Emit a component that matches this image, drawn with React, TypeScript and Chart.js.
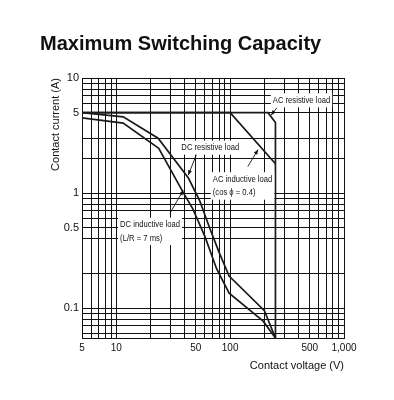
import { useEffect, useRef } from 'react';
import { Chart, registerables } from 'chart.js';

Chart.register(...registerables);

// ---- data ----
const dcResistiveV = [5, 11.5, 23.3, 43, 54, 67, 80, 98, 200, 250];
const dcResistiveI = [5, 4.6, 3.0, 1.35, 0.86, 0.48, 0.305, 0.19, 0.095, 0.055];

const dcInductiveV = [5, 11.5, 23.6, 39, 47, 60, 76, 98, 195, 250];
const dcInductiveI = [4.5, 4.05, 2.45, 1.0, 0.73, 0.42, 0.22, 0.135, 0.077, 0.055];

const acInductiveV = [5, 100, 250];
const acInductiveI = [5, 5, 1.8];

const acResistiveV = [5, 215, 250, 250];
const acResistiveI = [5, 5, 4.1, 0.055];

const xGrid = [5, 6, 7, 8, 9, 10, 20, 30, 40, 50, 60, 70, 80, 90, 100, 200, 300, 400, 500, 600, 700, 800, 900, 1000];
const xLabelValues = [5, 10, 50, 100, 500, 1000];
const xLabelTexts = ['5', '10', '50', '100', '500', '1,000'];

const yGrid = [10, 9, 8, 7, 6, 5, 3, 2, 1, 0.9, 0.8, 0.7, 0.6, 0.5, 0.4, 0.2, 0.1, 0.09, 0.08, 0.07, 0.06];
const yLabelValues = [10, 5, 1, 0.5, 0.1];
const yLabelTexts = ['10', '5', '1', '0.5', '0.1'];

const xMin = 5;
const xMax = 1000;
const yMin = 0.055;
const yMax = 10;

const titleText = 'Maximum Switching Capacity';
const xTitle = 'Contact voltage (V)';
const yTitle = 'Contact current (A)';

// annotation labels, in data coordinates (voltage, current)
const labelNotes = [
  { lines: ['AC resistive load'], at: [237, 6.4], from: [257, 5.5], to: [229, 4.75] },
  { lines: ['DC resistive load'], at: [37.3, 2.48], from: [50.5, 2.15], to: [42.8, 1.43] },
  { lines: ['AC inductive load', '(cos \u03d5 = 0.4)'], at: [70.4, 1.32], from: [143, 1.7], to: [176, 2.39] },
  { lines: ['DC inductive load', '(L/R = 7 ms)'], at: [10.8, 0.532], from: [29.6, 0.666], to: [38.7, 1.057] },
];

const toPoints = (xs: number[], ys: number[]) => xs.map((x, k) => ({ x, y: ys[k] }));

const labelFor = (vals: number[], texts: string[], v: number) => {
  const k = vals.findIndex((a) => Math.abs(a - v) / a < 1e-6);
  return k >= 0 ? texts[k] : '';
};

const NOTE_FONT = '9px "Liberation Sans", Arial, sans-serif';
const NOTE_SQUEEZE = 0.85;

const overlayPlugin = {
  id: 'overlay',
  afterDraw(chart: any) {
    const ctx = chart.ctx as CanvasRenderingContext2D;
    const xs = chart.scales.x;
    const ys = chart.scales.y;
    ctx.save();
    // title
    ctx.fillStyle = '#111';
    ctx.font = 'bold 20px "Liberation Sans", Arial, sans-serif';
    ctx.textAlign = 'left';
    ctx.textBaseline = 'alphabetic';
    ctx.fillText(titleText, 40, 50);

    // notes
    ctx.font = NOTE_FONT;
    const lh = 13.5;
    for (const n of labelNotes) {
      const px = xs.getPixelForValue(n.at[0]);
      const py = ys.getPixelForValue(n.at[1]);
      const w = Math.max(...n.lines.map((t) => ctx.measureText(t).width)) * NOTE_SQUEEZE;
      ctx.fillStyle = '#fff';
      ctx.fillRect(px - 2, py - 7, w + 4, lh * (n.lines.length - 1) + 14);
      ctx.fillStyle = '#111';
      ctx.textBaseline = 'middle';
      n.lines.forEach((t, k) => {
        ctx.save();
        ctx.translate(px, py + k * lh);
        ctx.scale(NOTE_SQUEEZE, 1);
        ctx.fillText(t, 0, 0);
        ctx.restore();
      });
      // leader with arrowhead
      const x1 = xs.getPixelForValue(n.from[0]);
      const y1 = ys.getPixelForValue(n.from[1]);
      const x2 = xs.getPixelForValue(n.to[0]);
      const y2 = ys.getPixelForValue(n.to[1]);
      ctx.strokeStyle = '#111';
      ctx.lineWidth = 0.9;
      ctx.beginPath();
      ctx.moveTo(x1, y1);
      ctx.lineTo(x2, y2);
      ctx.stroke();
      const ang = Math.atan2(y2 - y1, x2 - x1);
      const al = 5;
      const aw = 2;
      ctx.beginPath();
      ctx.moveTo(x2, y2);
      ctx.lineTo(x2 - al * Math.cos(ang) + aw * Math.sin(ang), y2 - al * Math.sin(ang) - aw * Math.cos(ang));
      ctx.lineTo(x2 - al * Math.cos(ang) - aw * Math.sin(ang), y2 - al * Math.sin(ang) + aw * Math.cos(ang));
      ctx.closePath();
      ctx.fill();
    }
    ctx.restore();
  },
};

export default function App() {
  const ref = useRef<HTMLCanvasElement | null>(null);

  useEffect(() => {
    if (!ref.current) return;
    const lineStyle = {
      borderColor: '#1a1a1a',
      borderWidth: 1.7,
      pointRadius: 0,
      fill: false,
      tension: 0,
    };
    const chart = new Chart(ref.current, {
      type: 'line',
      data: {
        datasets: [
          { label: 'DC resistive load', data: toPoints(dcResistiveV, dcResistiveI), ...lineStyle },
          { label: 'DC inductive load', data: toPoints(dcInductiveV, dcInductiveI), ...lineStyle },
          { label: 'AC inductive load', data: toPoints(acInductiveV, acInductiveI), ...lineStyle },
          { label: 'AC resistive load', data: toPoints(acResistiveV, acResistiveI), ...lineStyle },
        ],
      },
      options: {
        animation: false,
        responsive: false,
        devicePixelRatio: 1,
        parsing: false,
        layout: { padding: { top: 78, right: 50, bottom: 0, left: 0 } },
        plugins: {
          legend: { display: false },
          tooltip: { enabled: false },
          title: { display: false },
        },
        scales: {
          x: {
            type: 'logarithmic',
            min: xMin,
            max: xMax,
            afterBuildTicks: (s: any) => {
              s.ticks = xGrid.map((v) => ({ value: v }));
            },
            afterFit: (s: any) => {
              s.height = 62;
            },
            ticks: {
              autoSkip: false,
              maxRotation: 0,
              padding: 4,
              color: '#111',
              font: { family: '"Liberation Sans", Arial, sans-serif', size: 10 },
              callback: (v: any) => labelFor(xLabelValues, xLabelTexts, Number(v)),
            },
            grid: { color: '#111', lineWidth: 1, drawTicks: false },
            border: { color: '#111', width: 1 },
            title: {
              display: true,
              text: xTitle,
              align: 'end',
              color: '#111',
              padding: { top: 0, bottom: 27 },
              font: { family: '"Liberation Sans", Arial, sans-serif', size: 11 },
            },
          },
          y: {
            type: 'logarithmic',
            min: yMin,
            max: yMax,
            afterBuildTicks: (s: any) => {
              s.ticks = yGrid.map((v) => ({ value: v }));
            },
            afterFit: (s: any) => {
              s.width = 82;
            },
            ticks: {
              autoSkip: false,
              padding: 3,
              color: '#111',
              font: { family: '"Liberation Sans", Arial, sans-serif', size: 11 },
              callback: (v: any) => labelFor(yLabelValues, yLabelTexts, Number(v)),
            },
            grid: { color: '#111', lineWidth: 1, drawTicks: false },
            border: { color: '#111', width: 1 },
            title: {
              display: true,
              text: yTitle,
              align: 'end',
              color: '#111',
              padding: { top: 49, bottom: 0 },
              font: { family: '"Liberation Sans", Arial, sans-serif', size: 11 },
            },
          },
        },
      } as any,
      plugins: [overlayPlugin],
    });
    return () => chart.destroy();
  }, []);

  return (
    <div style={{ position: 'absolute', left: 0, top: 0, width: 394, height: 400, background: '#fff' }}>
      <canvas ref={ref} width={394} height={400} style={{ display: 'block' }} />
    </div>
  );
}
